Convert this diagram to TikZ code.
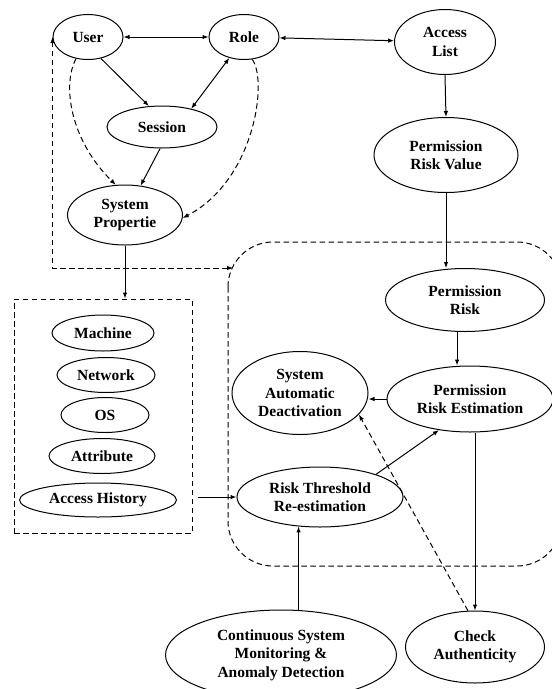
\documentclass[tikz,border=0pt]{standalone}
\usepackage{fontspec}
\setmainfont{Liberation Serif}
\usepackage{tikz}
\usetikzlibrary{shapes.geometric,arrows.meta}
\tikzset{
  ell/.style={ellipse, draw=black, line width=1pt, inner sep=0pt, align=center, font=\fontsize{15.5}{18.5}\selectfont\bfseries},
  link/.style={draw=black, line width=1pt, -{Latex[length=6pt,width=4.5pt]}},
  blink/.style={link, {Latex[length=6pt,width=4.5pt]}-{Latex[length=6pt,width=4.5pt]}},
  dlink/.style={link, dash pattern=on 5.5pt off 3.5pt},
  dblink/.style={blink, dash pattern=on 5.5pt off 3.5pt},
  frame/.style={draw=black, line width=1pt, dash pattern=on 5.5pt off 3.5pt},
}

\begin{document}
\begin{tikzpicture}[x=1pt,y=-1pt]
  \useasboundingbox (0,0) rectangle (552,689);
  \clip (0,0) rectangle (552,689);
  % role based part
  \node[ell, minimum width=70, minimum height=45] (user) at (88,37) {User};
  \node[ell, minimum width=70, minimum height=45] (role) at (244,37) {Role};
  \node[ell, minimum width=101, minimum height=65] (access) at (445,42) {Access\\List};
  \node[ell, minimum width=110, minimum height=42] (session) at (162,127) {Session};
  \node[ell, minimum width=115, minimum height=60] (sysprop) at (125,215) {System\\Propertie};
  \node[ell, minimum width=144, minimum height=75] (prv) at (446,155) {Permission\\Risk Value};
  % properties box
  \node[frame, rectangle, minimum width=178, minimum height=234] (props) at (103,416) {};
  \node[ell, minimum width=102, minimum height=36] (machine) at (103,333) {Machine};
  \node[ell, minimum width=98, minimum height=35] (network) at (106,375) {Network};
  \node[ell, minimum width=88, minimum height=35] (os) at (105,415) {OS};
  \node[ell, minimum width=106, minimum height=35] (attr) at (102,456) {Attribute};
  \node[ell, minimum width=157, minimum height=34] (hist) at (98,500) {Access History};
  % risk estimation region
  \draw[frame, rounded corners=45pt] (228,242) rectangle (562,566);
  \coordinate (fb) at (233,268);
  \node[ell, minimum width=159, minimum height=63] (pr) at (465,300) {Permission\\Risk};
  \node[ell, minimum width=166, minimum height=66] (pre) at (470,399) {Permission\\Risk Estimation};
  \node[ell, minimum width=136, minimum height=83] (sad) at (300,393) {System\\Automatic\\Deactivation};
  \node[ell, minimum width=166, minimum height=60] (rtr) at (320,497) {Risk Threshold\\Re-estimation};
  \node[ell, minimum width=231, minimum height=90] (csm) at (281,655) {Continuous System\\Monitoring \&\\Anomaly Detection};
  \node[ell, minimum width=139, minimum height=72] (ca) at (475,647) {Check\\Authenticity};
  % connectors
  \draw[blink] (user) -- (role);
  \draw[blink] (role) -- (access);
  \draw[link] (user.-59) -- (session.122);
  \draw[blink] (role.-125) -- (session.32);
  \draw[link] (session.-95) -- (sysprop.62);
  \draw[dlink] (user.-119) .. controls (62,85) and (70,140) .. (sysprop.107);
  \draw[dlink] (role.-70) .. controls (268,80) and (255,180) .. (sysprop.-3);
  \draw[dblink] (fb) -| (user.west);
  \draw[link] (sysprop.south) -- (sysprop.south |- props.north);
  \draw[link] (access.south) -- (prv.north);
  \draw[link] (prv.south) -- (prv.south |- pr.north);
  \draw[link] (pr.-104) -- (pr.-104 |- pre.north);
  \draw[link] (pre.west) -- (pre.west -| sad.east);
  \draw[link] (rtr.22) -- (pre.-135);
  \draw[link, shorten <=5pt] (props.east |- rtr) -- (rtr.west);
  \draw[link] (rtr.-126 |- csm.north) -- (rtr.-126);
  \draw[link] (ca.north |- pre.south) -- (ca.north);
  \draw[dlink] (ca.101) -- (sad.-20);
\end{tikzpicture}
\end{document}
